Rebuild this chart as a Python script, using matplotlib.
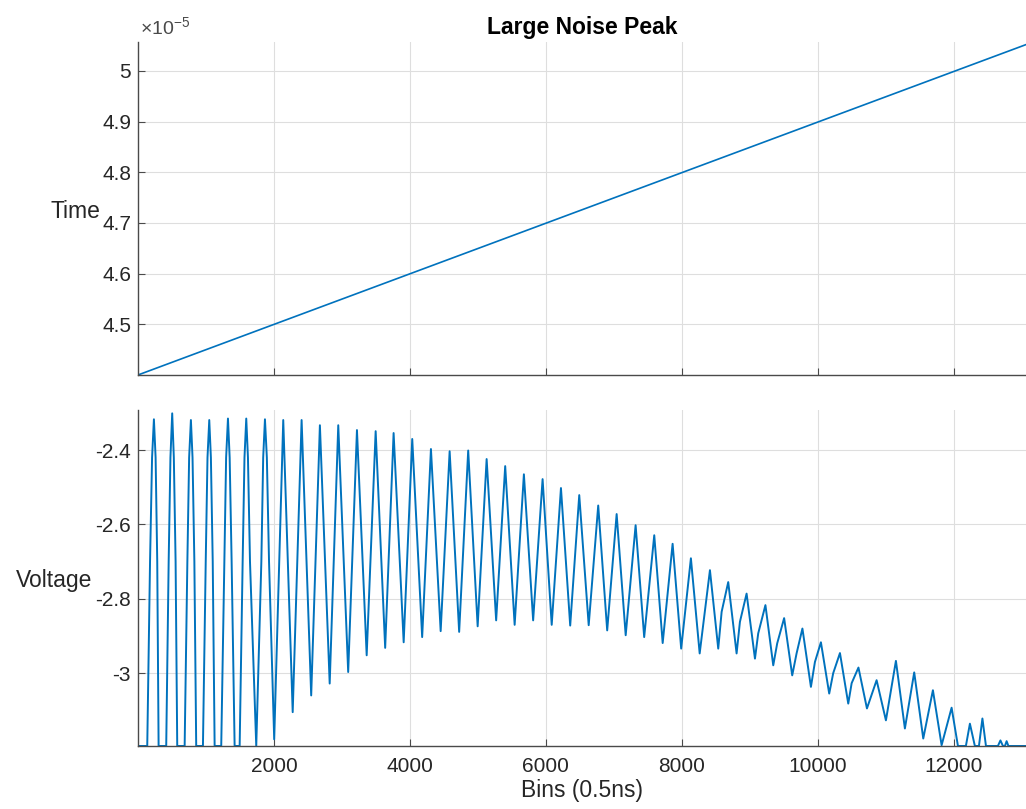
import matplotlib
matplotlib.use("Agg")
import matplotlib.pyplot as plt
import numpy as np

plt.rcParams['font.family'] = ['Liberation Sans', 'DejaVu Sans']
plt.rcParams['mathtext.fontset'] = 'custom'
plt.rcParams['mathtext.rm'] = 'Liberation Sans'

# ---- top panel: time stamp of each bin ----
time_bins = [1, 13060]
time_s = [4.400e-5, 5.052e-5]

# ---- bottom panel: voltage ----
# tops of each oscillation
peak_bins = [235, 504, 779, 1049, 1324, 1593, 1868, 2137, 2407, 2676, 2946, 3221,
             3496, 3760, 4034, 4309, 4584, 4857, 5128, 5401, 5676, 5951, 6221, 6490,
             6769, 7040, 7319, 7593, 7863, 8132, 8412, 8681, 8951, 9228, 9503, 9772,
             10044, 10324, 10596, 10863, 11147, 11416, 11691, 11966, 12235, 12419,
             12684, 12775]
peak_v = [-2.317, -2.301, -2.319, -2.319, -2.315, -2.315, -2.317, -2.319, -2.319,
          -2.333, -2.333, -2.346, -2.349, -2.354, -2.370, -2.397, -2.403, -2.401,
          -2.424, -2.443, -2.465, -2.478, -2.502, -2.521, -2.549, -2.572, -2.602,
          -2.629, -2.652, -2.691, -2.723, -2.755, -2.786, -2.817, -2.852, -2.880,
          -2.917, -2.946, -2.985, -3.019, -2.967, -2.998, -3.046, -3.093, -3.136,
          -3.122, -3.181, -3.183]

# visible minima between the peaks
trough_bins = [2004, 2276, 2548, 2820, 3092, 3364, 3636, 3908, 4180, 4452, 4724,
               4996, 5268, 5540, 5812, 6085, 6357, 6629, 6901, 7173, 7445, 7717,
               7989, 8261, 8534, 8804, 9074, 9343, 9622, 9897, 10166, 10446, 10721,
               11000, 11279, 11549, 11819]
trough_v = [-3.178, -3.105, -3.060, -3.028, -2.997, -2.952, -2.932, -2.917, -2.903,
            -2.887, -2.889, -2.874, -2.858, -2.870, -2.858, -2.870, -2.872, -2.871,
            -2.885, -2.898, -2.903, -2.919, -2.934, -2.947, -2.934, -2.947, -2.961,
            -2.979, -3.006, -3.037, -3.055, -3.082, -3.095, -3.127, -3.149, -3.176,
            -3.194]

# sides of the first (saturating) arches
side_bins = [178, 208, 260, 284, 452, 478, 528, 554, 727, 753, 803, 830,
             997, 1023, 1073, 1100, 1270, 1297, 1349, 1378, 1540, 1567, 1618, 1648,
             1815, 1842, 1896, 1928]
side_v = [-2.70, -2.42, -2.42, -2.70] * 7

# notch on the rising edge, later cycles
kink_bins = [8584, 8853, 9122, 9401, 9686, 9956, 10225, 10496]
kink_v = [-2.835, -2.862, -2.893, -2.920, -2.947, -2.970, -3.000, -3.027]

# where the digitiser sits at its lower limit
adc_floor = -3.196
floor_bins = [1, 137, 304, 416, 578, 687, 857, 956, 1128, 1225, 1422, 1496, 1740,
              12059, 12176, 12308, 12368, 12471, 12647, 12721, 12750, 12801, 13060]

# merge all read points into one trace ordered by bin
vb = np.concatenate([peak_bins, trough_bins, side_bins, kink_bins, floor_bins])
vv = np.concatenate([peak_v, trough_v, side_v, kink_v,
                     [adc_floor] * len(floor_bins)])
order = np.argsort(vb, kind='stable')
vb, vv = vb[order], vv[order]

blue = '#0072BD'
dark = '#262626'

fig = plt.figure(figsize=(10.26, 8.09), dpi=100)
ax1 = fig.add_axes([0.1345, 0.5365, 0.8655, 0.4115])
ax2 = fig.add_axes([0.1345, 0.0779, 0.8655, 0.4153])

ax1.plot(time_bins, time_s, color=blue, lw=1.2)
ax2.plot(vb, vv, color=blue, lw=1.4, solid_joinstyle='round')

for ax in (ax1, ax2):
    ax.set_xlim(1, 13060)
    ax.set_xticks([2000, 4000, 6000, 8000, 10000, 12000])
    ax.spines['top'].set_visible(False)
    ax.spines['right'].set_visible(False)
    for s in ('left', 'bottom'):
        ax.spines[s].set_color('#4a4a4a')
        ax.spines[s].set_linewidth(1.0)
    ax.tick_params(direction='in', length=5, width=0.8, colors='#4a4a4a',
                   labelcolor=dark, labelsize=15, pad=5)
    ax.tick_params(axis='x', pad=8)
    ax.grid(True, color='#dedede', lw=0.8)
    ax.set_axisbelow(True)

ax1.set_ylim(4.4e-5, 5.057e-5)
ax1.set_yticks([4.5e-5, 4.6e-5, 4.7e-5, 4.8e-5, 4.9e-5, 5.0e-5])
ax1.set_yticklabels(['4.5', '4.6', '4.7', '4.8', '4.9', '5'])
ax1.tick_params(axis='x', labelbottom=False)
ax1.text(0.002, 1.012, r'$\mathregular{\times10^{-5}}$', transform=ax1.transAxes,
         fontsize=14, color='#4a4a4a', ha='left', va='bottom')
ax1.set_title('Large Noise Peak', fontsize=16.5, fontweight='bold', color='black', pad=6)
ax1.set_ylabel('Time', fontsize=16.5, rotation=0, color=dark, ha='right', va='center')
ax1.yaxis.set_label_coords(-0.042, 0.49)

ax2.set_ylim(adc_floor, -2.292)
ax2.set_yticks([-3.0, -2.8, -2.6, -2.4])
ax2.set_yticklabels(['-3', '-2.8', '-2.6', '-2.4'])
ax2.set_xticklabels(['2000', '4000', '6000', '8000', '10000', '12000'])
ax2.set_ylabel('Voltage', fontsize=16.5, rotation=0, color=dark, ha='right', va='center')
ax2.yaxis.set_label_coords(-0.051, 0.494)
ax2.set_xlabel('Bins (0.5ns)', fontsize=16.5, color=dark, labelpad=2)

fig.savefig('out.png', dpi=100)
